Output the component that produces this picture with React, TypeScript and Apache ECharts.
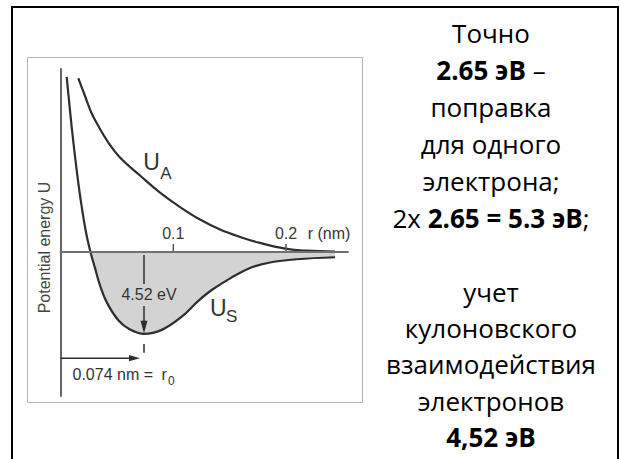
import React, { useEffect, useRef } from 'react';
import * as echarts from 'echarts';

// ---- axis ranges (r in nm, U in eV) ----
const R_MIN = 0;
const R_MAX = 0.255;
const U_MIN = -7.95;
const U_MAX = 10.1;

const TICK_VALUES = [0.1, 0.2];
const TICK_LABELS = ['0.1', '0.2'];

// ---- singlet (bonding) potential U_S ----
const US_R = [0.0054, 0.0098, 0.0143, 0.0181, 0.0225, 0.0265, 0.0305, 0.035, 0.0412, 0.0514, 0.0616, 0.074, 0.0897, 0.1075, 0.1222, 0.1341, 0.1512, 0.1681, 0.1858, 0.2095, 0.2435];
const US_U = [9.67, 6.92, 4.51, 2.76, 1.1, 0, -0.88, -1.85, -2.81, -3.78, -4.28, -4.52, -4.3, -3.57, -2.7, -2.1, -1.43, -0.88, -0.58, -0.4, -0.29];

// ---- antibonding potential U_A ----
const UA_R = [0.0157, 0.021, 0.027, 0.0335, 0.0421, 0.0527, 0.0705, 0.0882, 0.106, 0.1237, 0.1415, 0.1592, 0.1769, 0.2006, 0.2184, 0.2435];
const UA_U = [9.59, 8.72, 7.73, 6.95, 6.07, 5.22, 4.22, 3.28, 2.48, 1.79, 1.24, 0.83, 0.5, 0.17, 0.07, 0.02];

// ---- annotations ----
const R0 = 0.074;          // equilibrium distance, nm
const DEPTH = 4.52;        // binding energy, eV
const R0_ARROW_LEVEL = -5.86;
const R0_MARK = [-5.08, -5.56];

const RIGHT_BLOCK_1 = ['Точно', '{b|2.65 эВ} –', 'поправка', 'для одного', 'электрона;', '2x {b|2.65 = 5.3 эВ};'];
const RIGHT_BLOCK_2 = ['учет', 'кулоновского', 'взаимодействия', 'электронов', '{b|4,52 эВ}'];

const W = 620;
const H = 459;
const GRID_LEFT = 60.6;
const GRID_TOP = 69;
const GRID_W = 287.4;
const GRID_H = 327;

const CHART_FONT = 'Liberation Sans, Arial, sans-serif';
const TEXT_FONT = 'Open Sans, Noto Sans, sans-serif';
const INK = '#2e2e2e';

export default function App() {
  const ref = useRef<HTMLDivElement>(null);

  useEffect(() => {
    if (!ref.current) return;
    const chart = echarts.init(ref.current, null, { renderer: 'svg' });

    const us = US_R.map((r, i) => [r, US_U[i]]);
    const usFill = us.filter((p) => p[1] <= 0);
    const ua = UA_R.map((r, i) => [r, UA_U[i]]);

    const renderAnno = (params: any, api: any) => {
      const children: any[] = [];
      TICK_VALUES.forEach((t, i) => {
        const p = api.coord([t, 0]);
        children.push({
          type: 'line',
          shape: { x1: p[0], y1: p[1] - 1, x2: p[0], y2: p[1] - 8 },
          style: { stroke: '#555', lineWidth: 1.5 },
        });
        children.push({
          type: 'text',
          x: p[0],
          y: p[1] - 18,
          style: {
            text: TICK_LABELS[i],
            align: 'center',
            verticalAlign: 'middle',
            fontFamily: CHART_FONT,
            fontSize: 16,
            fill: '#3a3a3a',
          },
        });
      });
      const top = api.coord([R0, 0]);
      const bot = api.coord([R0, -DEPTH]);
      children.push({
        type: 'line',
        shape: { x1: top[0], y1: top[1] + 3, x2: bot[0], y2: bot[1] - 10 },
        style: { stroke: INK, lineWidth: 1.5 },
      });
      children.push({
        type: 'polygon',
        shape: { points: [[bot[0] - 3.5, bot[1] - 13], [bot[0] + 3.5, bot[1] - 13], [bot[0], bot[1] - 0.5]] },
        style: { fill: INK },
      });
      const m1 = api.coord([R0, R0_MARK[0]]);
      const m2 = api.coord([R0, R0_MARK[1]]);
      children.push({
        type: 'line',
        shape: { x1: m1[0], y1: m1[1], x2: m2[0], y2: m2[1] },
        style: { stroke: INK, lineWidth: 1.5 },
      });
      const a = api.coord([0, R0_ARROW_LEVEL]);
      const b = api.coord([R0, R0_ARROW_LEVEL]);
      const tip = b[0] - 4;
      children.push({
        type: 'line',
        shape: { x1: a[0], y1: a[1], x2: tip - 9, y2: b[1] },
        style: { stroke: INK, lineWidth: 1.5 },
      });
      children.push({
        type: 'polygon',
        shape: { points: [[tip - 11, b[1] - 3.2], [tip - 11, b[1] + 3.2], [tip, b[1]]] },
        style: { fill: INK },
      });
      const lab = api.coord([R0, -DEPTH / 2]);
      children.push({
        type: 'text',
        x: lab[0] + 5,
        y: lab[1] + 2,
        style: {
          text: `${DEPTH} eV`,
          align: 'center',
          verticalAlign: 'middle',
          fontFamily: CHART_FONT,
          fontSize: 16,
          fill: '#333',
          backgroundColor: '#d3d3d3',
          padding: [3, 2],
        },
      });
      return { type: 'group', children };
    };

    const lbl = (text: string, x: number, y: number, size: number, align = 'left') => ({
      type: 'text', z: 100, x, y,
      style: { text, align, verticalAlign: 'middle', fontFamily: CHART_FONT, fontSize: size, fill: '#333' },
    });

    const graphics: any[] = [
      { type: 'rect', z: 100, shape: { x: 12, y: 7, width: 606, height: 470 }, style: { fill: 'none', stroke: '#000', lineWidth: 2 } },
      { type: 'rect', z: 100, shape: { x: 27.5, y: 57.5, width: 335, height: 345 }, style: { fill: 'none', stroke: '#b4b4b4', lineWidth: 1 } },
      {
        type: 'text', z: 100, x: 44.7, y: 247.5, rotation: Math.PI / 2,
        style: { text: 'Potential energy U', align: 'center', verticalAlign: 'middle', fontFamily: CHART_FONT, fontSize: 16, fill: '#444' },
      },
      lbl('U', 151.5, 161.5, 23, 'center'),
      lbl('A', 166, 173, 17, 'center'),
      lbl('U', 218.3, 308.3, 23, 'center'),
      lbl('S', 231.7, 316.5, 17, 'center'),
      lbl(`0.0${Math.round(R0 * 1000)} nm =`, 72.5, 374, 16),
      lbl('r', 161.5, 374, 16),
      lbl('0', 168, 381, 12),
      lbl('r (nm)', 329, 233.5, 16, 'center'),
    ];

    const rich = { b: { fontWeight: 'bold', fontSize: 26, fontFamily: TEXT_FONT, fill: '#000' } };
    RIGHT_BLOCK_1.forEach((t, i) => {
      graphics.push({
        type: 'text', z: 100, x: 491, y: 33 + i * 37,
        style: { text: t, align: 'center', verticalAlign: 'middle', fontFamily: TEXT_FONT, fontSize: 26, fill: '#000', rich },
      });
    });
    RIGHT_BLOCK_2.forEach((t, i) => {
      graphics.push({
        type: 'text', z: 100, x: 491, y: 291.7 + i * 36.3,
        style: { text: t, align: 'center', verticalAlign: 'middle', fontFamily: TEXT_FONT, fontSize: 26, fill: '#000', rich },
      });
    });

    chart.setOption({
      animation: false,
      backgroundColor: '#ffffff',
      grid: { left: GRID_LEFT, top: GRID_TOP, width: GRID_W, height: GRID_H },
      xAxis: {
        type: 'value',
        min: R_MIN,
        max: R_MAX,
        interval: 0.1,
        z: 5,
        axisLine: { show: true, onZero: true, lineStyle: { color: '#707070', width: 2 } },
        axisTick: { show: false },
        splitLine: { show: false },
        axisLabel: { show: false },
      },
      yAxis: {
        type: 'value',
        min: U_MIN,
        max: U_MAX,
        z: 5,
        axisLine: { show: true, lineStyle: { color: '#666', width: 2 } },
        axisTick: { show: false },
        axisLabel: { show: false },
        splitLine: { show: false },
      },
      graphic: graphics,
      series: [
        {
          type: 'line',
          data: usFill,
          smooth: 0.4,
          symbol: 'none',
          lineStyle: { width: 0 },
          areaStyle: { color: '#d3d3d3', origin: 0, opacity: 1 },
          z: 1,
          silent: true,
        },
        {
          type: 'line',
          data: us,
          smooth: 0.4,
          symbol: 'none',
          lineStyle: { color: INK, width: 2.2 },
          z: 3,
        },
        {
          type: 'line',
          data: ua,
          smooth: 0.4,
          symbol: 'none',
          lineStyle: { color: INK, width: 2.2 },
          z: 3,
        },
        {
          type: 'custom',
          data: [[0, 0]],
          renderItem: renderAnno,
          z: 6,
          silent: true,
        },
      ],
    });

    return () => chart.dispose();
  }, []);

  return <div ref={ref} style={{ position: 'absolute', left: 0, top: 0, width: W, height: H, background: '#fff' }} />;
}
